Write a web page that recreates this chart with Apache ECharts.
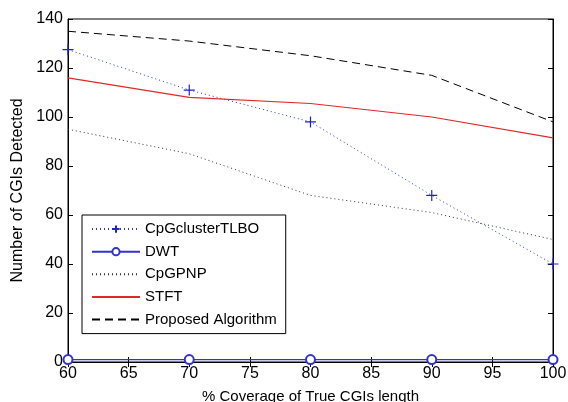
<!DOCTYPE html>
<html><head><meta charset="utf-8">
<script src="https://cdn.jsdelivr.net/npm/echarts@6/dist/echarts.min.js"></script>
<style>html,body{margin:0;padding:0;background:#fff}#c{width:568px;height:402px}</style>
</head><body><div id="c"></div>
<script>
const xCats = [60, 70, 80, 90, 100];
const cpgTLBO = [127.5, 111, 98, 68, 40];
const dwt = [1, 1, 1, 1, 1];
const cpgpnp = [95, 85, 68, 61, 50];
const stft = [116, 108, 105.5, 100, 91.5];
const proposed = [135, 131, 125, 117, 98];
const names = ['CpGclusterTLBO', 'DWT', 'CpGPNP', 'STFT', 'Proposed Algorithm'];

const F = 'Liberation Sans, Arial, sans-serif';
const pair = a => a.map((v, i) => [xCats[i], v]);
const chart = echarts.init(document.getElementById('c'), null, {renderer: 'canvas'});
const tickInside = {show: true, inside: true, length: 5, lineStyle: {color: '#000'}};
chart.setOption({
  animation: false,
  backgroundColor: '#fff',
  grid: {left: 68, right: 15, top: 19, bottom: 40, show: true, borderColor: '#000', borderWidth: 1,
         containLabel: false, outerBoundsMode: 'none'},
  xAxis: [{
    type: 'value', min: 60, max: 100, interval: 5,
    name: '% Coverage of True CGIs length', nameLocation: 'middle', nameGap: 27,
    nameTextStyle: {fontFamily: F, fontSize: 15, color: '#000'},
    axisLine: {show: true, lineStyle: {color: '#000'}},
    axisTick: tickInside, splitLine: {show: false},
    axisLabel: {fontFamily: F, fontSize: 16, color: '#000', margin: 4}
  }, {
    type: 'value', position: 'top', min: 60, max: 100, interval: 5,
    axisLine: {show: true, lineStyle: {color: '#000'}},
    axisTick: tickInside, splitLine: {show: false}, axisLabel: {show: false}
  }],
  yAxis: [{
    type: 'value', min: 0, max: 140, interval: 20,
    name: 'Number of CGIs Detected', nameLocation: 'middle', nameGap: 37.5,
    nameTextStyle: {fontFamily: F, fontSize: 16, color: '#000'},
    axisLine: {show: true, lineStyle: {color: '#000'}},
    axisTick: tickInside, splitLine: {show: false},
    axisLabel: {fontFamily: F, fontSize: 16, color: '#000', margin: 5}
  }, {
    type: 'value', position: 'right', min: 0, max: 140, interval: 20,
    axisLine: {show: true, lineStyle: {color: '#000'}},
    axisTick: tickInside, splitLine: {show: false}, axisLabel: {show: false}
  }],
  legend: {
    orient: 'vertical', left: 82, top: 215,
    padding: [6.6, 9, 6.6, 9], itemGap: 7.6, itemWidth: 48, itemHeight: 9,
    backgroundColor: '#fff', borderColor: '#000', borderWidth: 1, borderRadius: 0,
    textStyle: {fontFamily: F, fontSize: 15, color: '#000'},
    data: [
      {name: names[0]},
      {name: names[1]},
      {name: names[2], itemStyle: {opacity: 0}},
      {name: names[3], itemStyle: {opacity: 0}},
      {name: names[4], itemStyle: {opacity: 0}}
    ]
  },
  series: [
    {name: names[0], type: 'line', data: pair(cpgTLBO), symbol: 'path://M0,-1L0,1M-1,0L1,0', symbolSize: 11,
     itemStyle: {color: '#2222cc', borderColor: '#2222cc', borderWidth: 1.2},
     lineStyle: {color: '#3333cc', width: 1, type: [1, 3]}, clip: false},
    {name: names[1], type: 'line', data: pair(dwt), symbol: 'emptyCircle', symbolSize: 9,
     itemStyle: {color: '#3333cc', borderColor: '#3333cc', borderWidth: 1},
     lineStyle: {color: '#3333cc', width: 1.2}, clip: false},
    {name: names[2], type: 'line', data: pair(cpgpnp), symbol: 'none',
     itemStyle: {color: '#333'}, lineStyle: {color: '#333', width: 1, type: [1, 3]}},
    {name: names[3], type: 'line', data: pair(stft), symbol: 'none',
     itemStyle: {color: '#e02828'}, lineStyle: {color: '#e02828', width: 1.2}},
    {name: names[4], type: 'line', data: pair(proposed), symbol: 'none',
     itemStyle: {color: '#000'}, lineStyle: {color: '#000', width: 1, type: [8, 5]}}
  ]
});
</script></body></html>
